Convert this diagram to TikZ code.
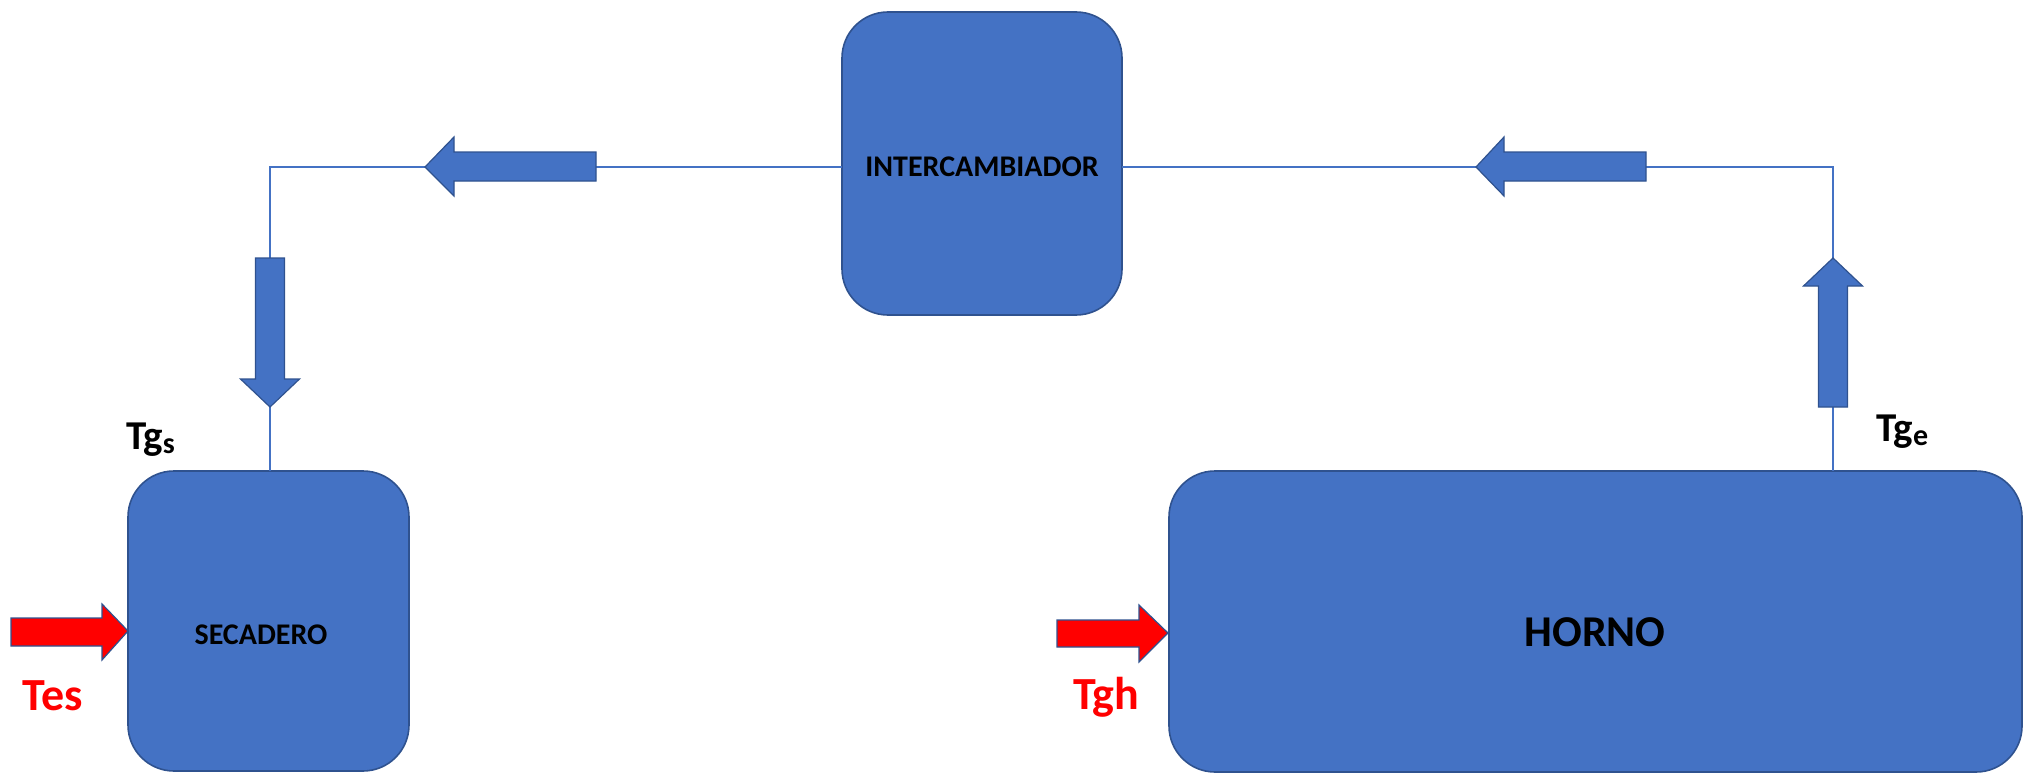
\documentclass[tikz,border=0pt]{standalone}
\usepackage{fontspec}
\setmainfont{Carlito}
\begin{document}
\begin{tikzpicture}[x=1pt,y=-1pt,
  unitbox/.style={draw=boxedge,fill=boxblue,line width=1.6pt,rounded corners=46pt,
    inner sep=0pt,outer sep=0pt},
  flowline/.style={draw=boxblue,line width=1.5pt},
  bluearrow/.style={fill=boxblue,draw=boxedge,line width=1.2pt,line join=miter},
  redarrow/.style={fill=red,draw=boxedge,line width=1.2pt,line join=miter},
  boxtext/.style={font=\bfseries\fontsize{30}{34}\selectfont,text=black,inner sep=0pt},
  templabel/.style={font=\bfseries\fontsize{41}{48}\selectfont,inner sep=0pt,anchor=base west},
  feedlabel/.style={templabel,font=\bfseries\fontsize{46}{52}\selectfont,text=red},
]
\definecolor{boxblue}{HTML}{4472C4}
\definecolor{boxedge}{HTML}{2F528F}
\useasboundingbox (0,0) rectangle (2031,773);

% process units
\node[unitbox,minimum width=281pt,minimum height=300pt] (sec) at (268.5,621) {};
\node[unitbox,minimum width=853pt,minimum height=301pt] (hor) at (1595.5,621.5) {};
\node[unitbox,minimum width=280pt,minimum height=303pt] (int) at (982,163.5) {};

\node[boxtext] (sectxt) at (261,635) {SECADERO};
\node[boxtext,font=\bfseries\fontsize{44}{50}\selectfont] (hortxt) at (1595,632) {HORNO};
\node[boxtext] (inttxt) at (982,167) {INTERCAMBIADOR};

% gas circuit lines
\coordinate (cl) at (270,167);
\coordinate (cr) at (1833,167);
\draw[flowline] (int.west |- cl) -- (cl) -- (sec.north -| cl);
\draw[flowline] (int.east |- cr) -- (cr) -- (hor.north -| cr);

% flow direction arrows on the gas circuit
\draw[bluearrow] (425,167) -- (454,137) -- (454,152) -- (596,152) -- (596,181)
  -- (454,181) -- (454,196) -- cycle;
\draw[bluearrow] (1476,167) -- (1504,137) -- (1504,152) -- (1646,152) -- (1646,181)
  -- (1504,181) -- (1504,196) -- cycle;
\draw[bluearrow] (270,407) -- (240.5,379) -- (255.5,379) -- (255.5,258) -- (284.5,258)
  -- (284.5,379) -- (299.5,379) -- cycle;
\draw[bluearrow] (1833,258) -- (1803.5,286) -- (1818.5,286) -- (1818.5,407) -- (1847.5,407)
  -- (1847.5,286) -- (1862.5,286) -- cycle;

% feed arrows
\draw[redarrow] (128,631) -- (102,604) -- (102,618) -- (11,618) -- (11,646)
  -- (102,646) -- (102,660) -- cycle;
\draw[redarrow] (1168,633) -- (1139,605) -- (1139,620) -- (1057,620) -- (1057,647)
  -- (1139,647) -- (1139,662) -- cycle;

% temperature labels
\node[templabel] (tgs) at (126,449) {Tg\raisebox{-0.12em}{\fontsize{30}{34}\selectfont s}};
\node[templabel] (tge) at (1876,441) {Tg\raisebox{-0.12em}{\fontsize{30}{34}\selectfont e}};
\node[feedlabel] (tes) at (22,710) {Tes};
\node[feedlabel] (tgh) at (1073,709) {Tgh};
\end{tikzpicture}
\end{document}
